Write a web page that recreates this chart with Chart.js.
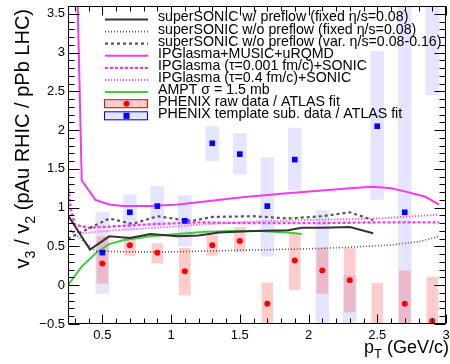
<!DOCTYPE html>
<html>
<head>
<meta charset="utf-8">
<script src="https://cdn.jsdelivr.net/npm/chart.js@4.4.1/dist/chart.umd.min.js"></script>
<style>
html,body{margin:0;padding:0;background:#fff;}
canvas{display:block;}
</style>
</head>
<body>
<canvas id="c" width="450" height="364" style="width:450px;height:364px"></canvas>
<script>
// ---------------- data ----------------
const xTickLabels = [0.5, 1, 1.5, 2, 2.5, 3];
const yTickLabels = [-0.5, 0, 0.5, 1, 1.5, 2, 2.5, 3, 3.5];

// superSONIC w/ preflow (fixed eta/s=0.08)
const sonicPreflowPt = [0.25, 0.41, 0.55, 0.70, 0.85, 1.05, 1.20, 1.35, 1.60, 1.85, 1.95, 2.10, 2.30, 2.47];
const sonicPreflowV  = [0.90, 0.46, 0.63, 0.61, 0.66, 0.63, 0.64, 0.68, 0.70, 0.71, 0.74, 0.74, 0.75, 0.67];
// superSONIC w/o preflow (fixed)
const sonicNoPreFixPt = [0.25, 0.45, 0.70, 1.00, 1.50, 2.00, 2.30, 2.60, 2.80, 2.95];
const sonicNoPreFixV  = [0.73, 0.44, 0.43, 0.43, 0.45, 0.47, 0.49, 0.52, 0.56, 0.63];
// superSONIC w/o preflow (var.)
const sonicNoPreVarPt = [0.25, 0.55, 0.72, 0.90, 1.05, 1.15, 1.30, 1.60, 1.85, 2.10, 2.30, 2.47];
const sonicNoPreVarV  = [0.60, 0.86, 0.79, 0.89, 0.85, 0.83, 0.88, 0.89, 0.86, 0.89, 0.94, 0.84];
// IPGlasma+MUSIC+uRQMD
const ipgMusicPt = [0.30, 0.35, 0.45, 0.55, 0.65, 0.85, 1.05, 1.20, 1.50, 1.80, 2.10, 2.30, 2.47, 2.60, 2.70, 2.85, 2.95];
const ipgMusicV  = [5.20, 1.35, 1.10, 1.04, 1.02, 1.02, 1.04, 1.07, 1.13, 1.18, 1.22, 1.25, 1.27, 1.25, 1.21, 1.14, 1.04];
// IPGlasma (tau=0.001)+SONIC
const ipgSonic001Pt = [0.25, 0.27, 0.30, 0.40, 0.60, 0.90, 1.20, 1.60, 2.00, 2.50, 2.95];
const ipgSonic001V  = [1.31, 0.98, 0.78, 0.74, 0.76, 0.79, 0.81, 0.80, 0.80, 0.81, 0.81];
// IPGlasma (tau=0.4)+SONIC
const ipgSonic04Pt = [0.25, 0.35, 0.60, 0.90, 1.20, 1.60, 2.00, 2.50, 2.95];
const ipgSonic04V  = [0.71, 0.67, 0.71, 0.74, 0.78, 0.82, 0.84, 0.86, 0.91];
// AMPT
const amptPt = [0.25, 0.35, 0.45, 0.55, 0.65, 0.85, 1.05, 1.25, 1.45, 1.65, 1.85, 1.95];
const amptV  = [0.00, 0.24, 0.41, 0.53, 0.58, 0.63, 0.66, 0.69, 0.70, 0.70, 0.68, 0.66];

// PHENIX data
const ptBins  = [0.5, 0.7, 0.9, 1.1, 1.3, 1.5, 1.7, 1.9, 2.1, 2.3, 2.5, 2.7, 2.9];
const rawV    = [0.28, 0.515, 0.42, 0.18, 0.515, 0.57, -0.24, 0.32, 0.19, 0.065, -0.60, -0.24, -0.46];
const rawLo   = [0.02, 0.38, 0.28, -0.13, 0.38, 0.43, -0.52, -0.06, -0.11, -0.35, -1.23, -0.67, -1.03];
const rawHi   = [0.63, 0.63, 0.54, 0.48, 0.65, 0.75, 0.035, 0.68, 0.48, 0.48, 0.03, 0.19, 0.11];
const tmplV   = [0.42, 0.94, 1.02, 0.83, 1.83, 1.69, 1.02, 1.62, -0.90, -1.00, 2.05, 0.94, 4.30];
const tmplLo  = [-0.11, 0.71, 0.75, 0.50, 1.60, 1.43, 0.37, 1.22, -2.77, -2.13, 1.10, -1.96, 2.45];
const tmplHi  = [0.945, 1.17, 1.28, 1.16, 2.05, 1.96, 1.65, 2.03, 0.97, 0.13, 3.02, 3.84, 6.15];

// ---------------- helpers ----------------
const FONT = '"Liberation Sans", Arial, Helvetica, sans-serif';
const MAG = '#f03cf0';
const pts = (xs, ys) => xs.map((x, i) => ({x: x, y: ys[i]}));

function lineDs(label, xs, ys, color, width, dash) {
  return {label, data: pts(xs, ys), showLine: true, borderColor: color, backgroundColor: color,
    borderWidth: width, borderDash: dash, pointRadius: 0, pointHoverRadius: 0, tension: 0, order: 2,
    legendType: 'line'};
}

const datasets = [
  lineDs('superSONIC w/ preflow (fixed η/s=0.08)', sonicPreflowPt, sonicPreflowV, '#333333', 2, []),
  lineDs('superSONIC w/o preflow (fixed η/s=0.08)', sonicNoPreFixPt, sonicNoPreFixV, '#555555', 1.6, [1, 2]),
  lineDs('superSONIC w/o preflow (var. η/s=0.08-0.16)', sonicNoPreVarPt, sonicNoPreVarV, '#555555', 2.2, [3, 3]),
  lineDs('IPGlasma+MUSIC+uRQMD', ipgMusicPt, ipgMusicV, MAG, 2, []),
  lineDs('IPGlasma (τ=0.001 fm/c)+SONIC', ipgSonic001Pt, ipgSonic001V, MAG, 2.4, [3, 2]),
  lineDs('IPGlasma (τ=0.4 fm/c)+SONIC', ipgSonic04Pt, ipgSonic04V, MAG, 2, [1, 2]),
  lineDs('AMPT σ = 1.5 mb', amptPt, amptV, '#3ccc3c', 2, []),
  {label: 'PHENIX raw data / ATLAS fit', data: pts(ptBins, rawV), showLine: false,
    pointStyle: 'circle', pointRadius: 3, pointBackgroundColor: '#ff0000', pointBorderColor: '#ff0000',
    pointBorderWidth: 0, order: 0, legendType: 'box', boxFill: 'rgba(255,0,0,0.2)', boxStroke: '#ff0000',
    boxLo: rawLo, boxHi: rawHi, boxHalf: 0.042},
  {label: 'PHENIX template sub. data / ATLAS fit', data: pts(ptBins, tmplV), showLine: false,
    pointStyle: 'rect', pointRadius: 4, pointBackgroundColor: '#0000ff', pointBorderColor: '#0000ff',
    pointBorderWidth: 0, order: 0, legendType: 'box', boxFill: 'rgba(0,0,255,0.1)', boxStroke: '#0000ff',
    boxLo: tmplLo, boxHi: tmplHi, boxHalf: 0.05}
];

function fmt(v) {
  const s = String(Math.round(v * 100) / 100);
  return s.replace('-', '\u2212');
}

// rich text: parts [{t, sub}]
function richWidth(ctx, parts, size) {
  let w = 0;
  parts.forEach(p => { ctx.font = (p.sub ? size * 0.72 : size) + 'px ' + FONT; w += ctx.measureText(p.t).width; });
  return w;
}
function drawRich(ctx, parts, x, y, size) {
  let cx = x;
  parts.forEach(p => {
    const s = p.sub ? size * 0.72 : size;
    ctx.font = s + 'px ' + FONT;
    ctx.fillText(p.t, cx, y + (p.sub ? size * 0.3 : 0));
    cx += ctx.measureText(p.t).width;
  });
}

// ---------------- plugins ----------------
const boxPlugin = {
  id: 'errBoxes',
  beforeDatasetsDraw(chart) {
    const {ctx, chartArea: a, scales: {x, y}} = chart;
    ctx.save();
    ctx.beginPath();
    ctx.rect(a.left, a.top, a.right - a.left, a.bottom - a.top);
    ctx.clip();
    chart.data.datasets.slice().reverse().forEach(ds => {
      if (!ds.boxLo) return;
      ctx.fillStyle = ds.boxFill;
      ds.data.forEach((p, i) => {
        const x0 = x.getPixelForValue(p.x - ds.boxHalf);
        const x1 = x.getPixelForValue(p.x + ds.boxHalf);
        const y0 = y.getPixelForValue(ds.boxHi[i]);
        const y1 = y.getPixelForValue(ds.boxLo[i]);
        ctx.fillRect(x0, y0, x1 - x0, y1 - y0);
      });
    });
    ctx.restore();
  }
};

const framePlugin = {
  id: 'rootFrame',
  afterDraw(chart) {
    const {ctx, chartArea: a, scales: {x, y}} = chart;
    ctx.save();
    ctx.strokeStyle = '#000';
    ctx.lineWidth = 1;
    const L = Math.round(a.left) + 0.5, R = Math.round(a.right) - 0.5;
    const T = Math.round(a.top) + 0.5, B = Math.round(a.bottom) - 0.5;
    ctx.beginPath();
    ctx.moveTo(L, T); ctx.lineTo(R, T); ctx.lineTo(R, B); ctx.lineTo(L, B); ctx.closePath();
    // x ticks
    for (let k = 3; k <= 30; k++) {
      const px = Math.round(x.getPixelForValue(k / 10)) + 0.5;
      const len = (k % 5 === 0) ? 9 : 5;
      ctx.moveTo(px, B); ctx.lineTo(px, B - len);
      ctx.moveTo(px, T); ctx.lineTo(px, T + len);
    }
    // y ticks
    for (let k = -5; k <= 36; k++) {
      const py = Math.round(y.getPixelForValue(k / 10)) + 0.5;
      const len = (k % 5 === 0) ? 11 : 6;
      ctx.moveTo(L, py); ctx.lineTo(L + len, py);
      ctx.moveTo(R, py); ctx.lineTo(R - len, py);
    }
    ctx.stroke();

    // legend
    const lx0 = 105, lx1 = 148, tx = 158, row0 = 19, step = 12.1;
    ctx.textBaseline = 'middle';
    ctx.textAlign = 'left';
    chart.data.datasets.forEach((ds, i) => {
      const ry = row0 + i * step;
      if (ds.legendType === 'line') {
        ctx.save();
        ctx.strokeStyle = ds.borderColor;
        ctx.lineWidth = ds.borderWidth;
        ctx.setLineDash(ds.borderDash || []);
        ctx.beginPath();
        ctx.moveTo(lx0, ry + 0.5); ctx.lineTo(lx1, ry + 0.5);
        ctx.stroke();
        ctx.restore();
      } else {
        ctx.save();
        ctx.fillStyle = ds.boxFill;
        ctx.fillRect(lx0 - 1, ry - 4.5, lx1 - lx0 + 1, 9);
        ctx.strokeStyle = ds.boxStroke;
        ctx.lineWidth = 1;
        ctx.strokeRect(lx0 - 0.5, ry - 4, lx1 - lx0, 8);
        ctx.fillStyle = ds.pointBackgroundColor;
        const mx = (lx0 + lx1) / 2;
        if (ds.pointStyle === 'circle') {
          ctx.beginPath(); ctx.arc(mx, ry, 3, 0, Math.PI * 2); ctx.fill();
        } else {
          ctx.fillRect(mx - 3, ry - 3, 6, 6);
        }
        ctx.restore();
      }
      ctx.fillStyle = '#000';
      ctx.font = '14.2px ' + FONT;
      ctx.fillText(ds.label, tx, ry - 1.5);
    });

    // axis titles
    ctx.fillStyle = '#000';
    ctx.textBaseline = 'alphabetic';
    const xt = [{t: 'p'}, {t: 'T', sub: true}, {t: ' (GeV/c)'}];
    const xs = 18;
    const xw = richWidth(ctx, xt, xs);
    drawRich(ctx, xt, 449 - xw, 353, xs);

    const yt = [{t: 'v'}, {t: '3', sub: true}, {t: ' / v'}, {t: '2', sub: true}, {t: ' (pAu RHIC / pPb LHC)'}];
    const ys = 20;
    const yw = richWidth(ctx, yt, ys);
    ctx.save();
    ctx.translate(29, 9 + yw);
    ctx.rotate(-Math.PI / 2);
    drawRich(ctx, yt, 0, 0, ys);
    ctx.restore();
    ctx.restore();
  }
};

// ---------------- chart ----------------
new Chart(document.getElementById('c'), {
  type: 'scatter',
  data: {datasets},
  options: {
    responsive: false,
    animation: false,
    devicePixelRatio: 1,
    layout: {padding: {left: 0, right: 2, top: 6, bottom: 0}},
    plugins: {legend: {display: false}, tooltip: {enabled: false}},
    events: [],
    scales: {
      x: {
        type: 'linear', min: 0.25, max: 3,
        grid: {display: false, drawTicks: false}, border: {display: false},
        ticks: {padding: 4, color: '#000', font: {size: 13, family: FONT}, maxRotation: 0, autoSkip: false,
          callback: v => fmt(v)},
        afterBuildTicks: s => { s.ticks = xTickLabels.map(v => ({value: v})); },
        afterFit: s => { s.height = 40; s.paddingLeft = 0; s.paddingRight = 0; }
      },
      y: {
        type: 'linear', min: -0.5, max: 3.6,
        grid: {display: false, drawTicks: false}, border: {display: false},
        ticks: {padding: 3, color: '#000', font: {size: 13, family: FONT}, autoSkip: false,
          callback: v => fmt(v)},
        afterBuildTicks: s => { s.ticks = yTickLabels.map(v => ({value: v})); },
        afterFit: s => { s.width = 68; s.paddingTop = 0; s.paddingBottom = 0; }
      }
    }
  },
  plugins: [boxPlugin, framePlugin]
});
</script>
</body>
</html>
